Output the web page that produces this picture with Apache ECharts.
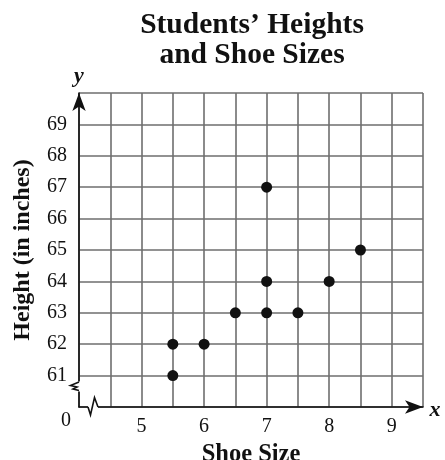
<!DOCTYPE html>
<html>
<head>
<meta charset="utf-8">
<script src="https://cdn.jsdelivr.net/npm/echarts@6/dist/echarts.min.js"></script>
<style>
html,body{margin:0;padding:0;background:#fff;}
#c{width:445px;height:460px;}
</style>
</head>
<body>
<div id="c"></div>
<script>
const titleText = "Students\u2019 Heights\nand Shoe Sizes";
const xName = "Shoe Size";
const yName = "Height (in inches)";
const shoeSize = [5.5, 5.5, 6, 6.5, 7, 7, 7, 7.5, 8, 8.5];
const heightIn = [61, 62, 62, 63, 63, 64, 67, 63, 64, 65];
const xLabels = [5, 6, 7, 8, 9];
const yLabels = [61, 62, 63, 64, 65, 66, 67, 68, 69];

(function () {
const FONT = '"Liberation Serif", "DejaVu Serif", serif';
const chart = echarts.init(document.getElementById('c'), null, {renderer: 'canvas'});

const points = shoeSize.map((x, i) => [x, heightIn[i]]);

const gridLine = {show: true, lineStyle: {color: '#6e6e6e', width: 1.6}};
const axisLineStyle = {
  show: true, onZero: false,
  symbol: ['none', 'arrow'], symbolSize: [10, 18],
  lineStyle: {color: '#111', width: 1.6}
};

chart.setOption({
  animation: false,
  backgroundColor: '#fff',
  title: {
    text: titleText, left: 247, top: 5, textAlign: 'center',
    textStyle: {fontFamily: FONT, fontWeight: 'bold', fontSize: 29.5, lineHeight: 30, color: '#111'}
  },
  grid: {left: 79, right: 22, top: 93, bottom: 53, containLabel: false, outerBoundsMode: 'none'},
  xAxis: {
    type: 'value', min: 4, max: 9.5, interval: 0.5,
    name: xName, nameLocation: 'middle', nameGap: 29,
    nameTextStyle: {fontFamily: FONT, fontWeight: 'bold', fontSize: 24.5, color: '#111'},
    axisLine: axisLineStyle, axisTick: {show: false},
    splitLine: gridLine,
    axisLabel: {
      margin: 10, fontFamily: FONT, fontSize: 20, color: '#111',
      formatter: v => xLabels.indexOf(v) >= 0 ? String(v) : ''
    }
  },
  yAxis: {
    type: 'value', min: 60, max: 70, interval: 1,
    name: yName, nameLocation: 'middle', nameRotate: 90, nameGap: 44,
    nameTextStyle: {fontFamily: FONT, fontWeight: 'bold', fontSize: 24, color: '#111'},
    axisLine: axisLineStyle, axisTick: {show: false},
    splitLine: gridLine,
    axisLabel: {
      margin: 12, fontFamily: FONT, fontSize: 20, color: '#111',
      formatter: v => yLabels.indexOf(v) >= 0 ? String(v) : ''
    }
  },
  series: [{
    type: 'scatter', data: points, symbol: 'circle', symbolSize: 11,
    itemStyle: {color: '#111', opacity: 1}, z: 10
  }]
});

const o = chart.convertToPixel({gridIndex: 0}, [4, 60]);
const pTop = chart.convertToPixel({gridIndex: 0}, [4, 70]);
const pRight = chart.convertToPixel({gridIndex: 0}, [9.5, 60]);
const ox = o[0], oy = o[1];
const lineSt = {stroke: '#111', lineWidth: 1.6, fill: null};
chart.setOption({
  graphic: [
    {type: 'rect', z: 100, shape: {x: ox - 3, y: oy - 25.5, width: 6, height: 10}, style: {fill: '#fff'}},
    {type: 'polyline', z: 101, shape: {points: [[ox, oy - 25], [ox - 8.5, oy - 21.5], [ox - 2, oy - 20], [ox - 6, oy - 18], [ox, oy - 16.5]]}, style: lineSt},
    {type: 'rect', z: 100, shape: {x: ox + 9, y: oy - 3, width: 10, height: 6}, style: {fill: '#fff'}},
    {type: 'polyline', z: 101, shape: {points: [[ox + 9, oy], [ox + 11.5, oy + 8], [ox + 15.5, oy - 9.5], [ox + 19, oy]]}, style: lineSt},
    {type: 'text', z: 101, x: ox - 13, y: oy + 14, style: {text: '0', font: '20px ' + FONT, fill: '#111', align: 'center', verticalAlign: 'middle'}},
    {type: 'text', z: 101, x: pTop[0], y: pTop[1] - 17, style: {text: 'y', font: 'italic bold 22px ' + FONT, fill: '#111', align: 'center', verticalAlign: 'middle'}},
    {type: 'text', z: 101, x: pRight[0] + 12, y: pRight[1] + 3, style: {text: 'x', font: 'italic bold 22px ' + FONT, fill: '#111', align: 'center', verticalAlign: 'middle'}}
  ]
});
})();
</script>
</body>
</html>
